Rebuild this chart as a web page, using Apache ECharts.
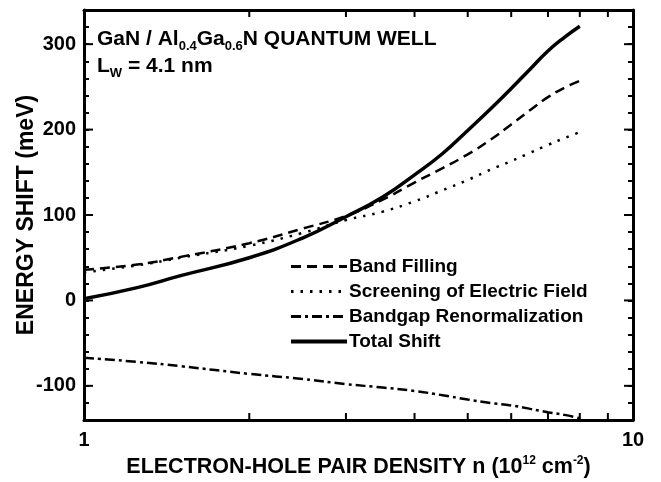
<!DOCTYPE html>
<html>
<head>
<meta charset="utf-8">
<script src="https://cdn.jsdelivr.net/npm/echarts@6/dist/echarts.min.js"></script>
<style>
  html, body { margin: 0; padding: 0; background: #fff; }
  #chart { width: 661px; height: 482px; }
</style>
</head>
<body>
<div id="chart"></div>
<script>
// Carrier density n (10^12 cm^-2)
const density = [1, 1.25, 1.5, 2, 2.5, 3, 3.5, 4, 4.5, 5, 5.5, 6, 6.5, 7, 7.5, 8];
// Energy shift contributions (meV)
const bandFilling = [36, 42, 51, 67, 84, 99, 118, 138, 155, 171, 188, 206, 223, 238, 249, 257];
const screening = [33, 41, 50, 64, 79, 94, 104, 116, 129, 141, 153, 163, 173, 182, 190, 197];
const bandgapRenorm = [-67, -72, -77, -86, -92, -98, -102, -106, -111, -116, -120, -123, -127, -131, -134, -138];
const totalShift = [2, 15, 29, 50, 73, 98, 121, 147, 172, 199, 224, 248, 271, 292, 308, 321];

// Axis ranges and tick positions
const xMin = 1, xMax = 10;
const yMin = -140, yMax = 340;
const xMinorTicks = [2, 3, 4, 5, 6, 7, 8, 9];
const yMajorTicks = [-100, 0, 100, 200, 300];

const FONT = '"Liberation Sans", Arial, Helvetica, sans-serif';

const pairs = (ys) => density.map((x, i) => [x, ys[i]]);

const chart = echarts.init(document.getElementById('chart'), null, { renderer: 'canvas' });

const axisLineStyle = { color: '#000', width: 3 };

// line style per curve: [width, dash pattern]
const styles = {
  'Band Filling': [2.5, [10, 6]],
  'Screening of Electric Field': [2.5, [2.5, 7]],
  'Bandgap Renormalization': [2.5, [10, 4, 3, 4]],
  'Total Shift': [3.5, 'solid']
};

function lineSeries(name, ys) {
  const [width, type] = styles[name];
  return {
    name: name,
    type: 'line',
    data: pairs(ys),
    smooth: 0.5,
    symbol: 'none',
    showSymbol: false,
    clip: false,
    lineStyle: { color: '#000', width: width, type: type, cap: 'butt' },
    itemStyle: { color: '#000' },
    z: 3
  };
}

const legendNames = ['Band Filling', 'Screening of Electric Field', 'Bandgap Renormalization', 'Total Shift'];

chart.setOption({
  animation: false,
  backgroundColor: '#fff',
  grid: { left: 84, right: 28, top: 10, bottom: 62, containLabel: false, outerBoundsMode: 'none' },
  title: [{
    left: 92, top: 21,
    text: 'GaN / Al{sb|0.4}Ga{sb|0.6}N QUANTUM WELL\nL{sb|W} = 4.1 nm',
    textStyle: {
      fontFamily: FONT, fontWeight: 'bold', fontSize: 21, color: '#000', lineHeight: 27,
      rich: {
        sb: { fontFamily: FONT, fontWeight: 'bold', fontSize: 13, color: '#000', verticalAlign: 'bottom', lineHeight: 27, padding: [5, 0, 0, 0] }
      }
    }
  }],
  legend: {
    orient: 'vertical',
    left: 284, top: 252,
    itemWidth: 56, itemHeight: 14, itemGap: 6,
    data: legendNames.map((n) => ({
      name: n,
      lineStyle: { color: '#000', width: n === 'Total Shift' ? 4 : 3, type: styles[n][1], cap: 'butt' }
    })),
    itemStyle: { opacity: 0 },
    textStyle: { fontFamily: FONT, fontWeight: 'bold', fontSize: 19, color: '#000', padding: [0, 0, 0, -3] },
    selectedMode: false
  },
  xAxis: [{
    type: 'log', logBase: 10, min: xMin, max: xMax, position: 'bottom',
    name: 'ELECTRON-HOLE PAIR DENSITY n (10{sp|12} cm{sp|-2})',
    nameLocation: 'middle', nameGap: 35, nameMoveOverlap: false,
    nameTextStyle: {
      fontFamily: FONT, fontWeight: 'bold', fontSize: 21.5, color: '#000', lineHeight: 24,
      rich: { sp: { fontFamily: FONT, fontWeight: 'bold', fontSize: 12, color: '#000', verticalAlign: 'top', lineHeight: 15 } }
    },
    axisLine: { show: true, onZero: false, lineStyle: axisLineStyle },
    axisTick: { show: false },
    splitLine: { show: false },
    minorTick: { show: false },
    axisLabel: { fontFamily: FONT, fontWeight: 'bold', fontSize: 20, color: '#000', margin: 10 }
  }, {
    type: 'log', logBase: 10, min: xMin, max: xMax, position: 'top',
    axisLine: { show: true, onZero: false, lineStyle: axisLineStyle },
    axisTick: { show: false }, axisLabel: { show: false }, splitLine: { show: false }
  }],
  yAxis: [{
    type: 'value', min: yMin, max: yMax, interval: 20, position: 'left',
    name: 'ENERGY SHIFT (meV)', nameLocation: 'middle', nameGap: 46, nameMoveOverlap: false,
    nameTextStyle: { fontFamily: FONT, fontWeight: 'bold', fontSize: 23, color: '#000' },
    axisLine: { show: true, onZero: false, lineStyle: axisLineStyle },
    axisTick: { show: true, inside: true, length: 5, lineStyle: { color: '#000', width: 2 } },
    splitLine: { show: false },
    axisLabel: {
      fontFamily: FONT, fontWeight: 'bold', fontSize: 20, color: '#000', margin: 8,
      formatter: (v) => (v % 100 === 0 ? String(v) : '')
    }
  }, {
    type: 'value', min: yMin, max: yMax, interval: 20, position: 'right',
    axisLine: { show: true, onZero: false, lineStyle: axisLineStyle },
    axisTick: { show: true, inside: true, length: 5, lineStyle: { color: '#000', width: 2 } },
    splitLine: { show: false }, axisLabel: { show: false }
  }],
  series: [
    lineSeries('Band Filling', bandFilling),
    lineSeries('Screening of Electric Field', screening),
    lineSeries('Bandgap Renormalization', bandgapRenorm),
    lineSeries('Total Shift', totalShift),
    {
      // minor decade ticks on bottom and top frame edges
      type: 'custom', silent: true, clip: false, z: 5,
      data: xMinorTicks.map((v) => [v, yMin]),
      renderItem: (params, api) => {
        const b = api.coord([api.value(0), yMin]);
        const t = api.coord([api.value(0), yMax]);
        const s = { stroke: '#000', lineWidth: 2 };
        return { type: 'group', children: [
          { type: 'line', shape: { x1: b[0], y1: b[1], x2: b[0], y2: b[1] - 7 }, style: s },
          { type: 'line', shape: { x1: t[0], y1: t[1], x2: t[0], y2: t[1] + 7 }, style: s }
        ] };
      }
    },
    {
      // major energy ticks on left and right frame edges
      type: 'custom', silent: true, clip: false, z: 5,
      data: yMajorTicks.map((v) => [xMin, v]),
      renderItem: (params, api) => {
        const l = api.coord([xMin, api.value(1)]);
        const r = api.coord([xMax, api.value(1)]);
        const s = { stroke: '#000', lineWidth: 2 };
        return { type: 'group', children: [
          { type: 'line', shape: { x1: l[0], y1: l[1], x2: l[0] + 9, y2: l[1] }, style: s },
          { type: 'line', shape: { x1: r[0], y1: r[1], x2: r[0] - 9, y2: r[1] }, style: s }
        ] };
      }
    }
  ]
});
</script>
</body>
</html>
